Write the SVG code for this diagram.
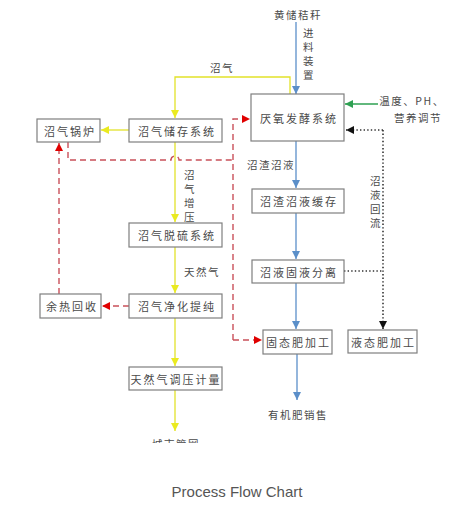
<svg xmlns="http://www.w3.org/2000/svg" width="457" height="519" viewBox="0 0 457 519">
<style>
.box{fill:#fff;stroke:#7f7f7f;stroke-width:1.2}
.t{font-family:"Noto Sans CJK SC","Noto Sans CJK TC",sans-serif;font-size:11px;fill:#4a4a4a;letter-spacing:2px;text-anchor:middle;dominant-baseline:central}
.tl{font-family:"Noto Sans CJK SC","Noto Sans CJK TC",sans-serif;font-size:10.5px;fill:#4a4a4a;letter-spacing:1.5px;text-anchor:middle;dominant-baseline:central}
.y{fill:none;stroke:#e2e22a;stroke-width:1.3}
.b{fill:none;stroke:#5b8fc9;stroke-width:1.3}
.g{fill:none;stroke:#2ea052;stroke-width:1.3}
.r{fill:none;stroke:#c9505a;stroke-width:1.4;stroke-dasharray:6 4}
.k{fill:none;stroke:#333;stroke-width:1.6;stroke-dasharray:1.4 2.2}
.title{font-family:"Liberation Sans",Arial,sans-serif;font-size:15px;fill:#555;text-anchor:middle}
</style>
<defs>
<marker id="ay" markerUnits="userSpaceOnUse" markerWidth="9" markerHeight="9" refX="8" refY="4.5" orient="auto"><path d="M0,0.5 L8,4.5 L0,8.5 z" fill="#eaea20"/></marker>
<marker id="ab" markerUnits="userSpaceOnUse" markerWidth="9" markerHeight="9" refX="8" refY="4.5" orient="auto"><path d="M0,0.5 L8,4.5 L0,8.5 z" fill="#5b8fc9"/></marker>
<marker id="ag" markerUnits="userSpaceOnUse" markerWidth="9" markerHeight="9" refX="8" refY="4.5" orient="auto"><path d="M0,0.5 L8,4.5 L0,8.5 z" fill="#2ea052"/></marker>
<marker id="ar" markerUnits="userSpaceOnUse" markerWidth="9" markerHeight="9" refX="8" refY="4.5" orient="auto"><path d="M0,0.5 L8,4.5 L0,8.5 z" fill="#e00000"/></marker>
<marker id="ak" markerUnits="userSpaceOnUse" markerWidth="9" markerHeight="9" refX="8" refY="4.5" orient="auto"><path d="M0,0.5 L8,4.5 L0,8.5 z" fill="#111"/></marker>
<clipPath id="cut"><rect x="0" y="0" width="457" height="443"/></clipPath>
</defs>
<rect width="457" height="519" fill="#fff"/>

<g id="connectors">
<path class="b" d="M296,22 V94" marker-end="url(#ab)"/>
<path class="g" d="M378,104 H345" marker-end="url(#ag)"/>
<path class="y" d="M290,94 V77 H175 V118" marker-end="url(#ay)"/>
<path class="y" d="M129,130 H101" marker-end="url(#ay)"/>
<path class="y" d="M175,142 V222" marker-end="url(#ay)"/>
<path class="y" d="M175,247 V293" marker-end="url(#ay)"/>
<path class="y" d="M175,318 V366" marker-end="url(#ay)"/>
<path class="y" d="M175,390 V431" marker-end="url(#ay)"/>
<path class="r" d="M129,306 H102" marker-end="url(#ar)"/>
<path class="r" d="M59,294 V143" marker-end="url(#ar)"/>
<path class="r" d="M68,142 V160 H171 A4,4 0 0 1 179,160 H233"/>
<path class="r" d="M233,340 V119 H250" marker-end="url(#ar)"/>
<path class="r" d="M233,340 H262" marker-end="url(#ar)"/>
<path class="b" d="M296,141 V188" marker-end="url(#ab)"/>
<path class="b" d="M296,213 V259" marker-end="url(#ab)"/>
<path class="b" d="M296,283 V329" marker-end="url(#ab)"/>
<path class="b" d="M297,354 V400" marker-end="url(#ab)"/>
<path class="k" d="M344,271 H383"/>
<path class="k" d="M383,130 H346" marker-end="url(#ak)"/>
<path class="k" d="M383,130 V329" marker-end="url(#ak)"/>
</g>

<g id="labels">
<text class="tl" x="298" y="14">黄储秸秆</text>
<text class="tl" x="309" y="32">进</text>
<text class="tl" x="309" y="46">料</text>
<text class="tl" x="309" y="60">装</text>
<text class="tl" x="309" y="74">置</text>
<text class="tl" x="222" y="67">沼气</text>
<text class="tl" x="412" y="100">温度、PH、</text>
<text class="tl" x="418" y="117">营养调节</text>
<text class="tl" x="271" y="164">沼渣沼液</text>
<text class="tl" x="190" y="174">沼</text>
<text class="tl" x="190" y="188">气</text>
<text class="tl" x="190" y="202">增</text>
<text class="tl" x="190" y="216">压</text>
<text class="tl" x="376" y="180">沼</text>
<text class="tl" x="376" y="194">液</text>
<text class="tl" x="376" y="208">回</text>
<text class="tl" x="376" y="222">流</text>
<text class="tl" x="202" y="271">天然气</text>
<text class="tl" x="298" y="414">有机肥销售</text>
<text class="tl" x="176" y="443" clip-path="url(#cut)">城市管网</text>
</g>

<g id="n-yangyang"><rect class="box" x="251" y="94" width="93" height="47"/><text class="t" x="299" y="118">厌氧发酵系统</text></g>
<g id="n-guolu"><rect class="box" x="37" y="119" width="63" height="23"/><text class="t" x="70" y="130.5">沼气锅炉</text></g>
<g id="n-chucun"><rect class="box" x="129" y="119" width="93" height="23"/><text class="t" x="177" y="130.5">沼气储存系统</text></g>
<g id="n-tuoliu"><rect class="box" x="129" y="223" width="93" height="24"/><text class="t" x="177" y="235">沼气脱硫系统</text></g>
<g id="n-jinghua"><rect class="box" x="129" y="294" width="93" height="24"/><text class="t" x="177" y="306">沼气净化提纯</text></g>
<g id="n-yure"><rect class="box" x="40" y="294" width="61" height="24"/><text class="t" x="72" y="306">余热回收</text></g>
<g id="n-tiaoya"><rect class="box" x="129" y="367" width="93" height="23"/><text class="t" x="176" y="378.5">天然气调压计量</text></g>
<g id="n-huancun"><rect class="box" x="252" y="189" width="92" height="24"/><text class="t" x="299" y="201">沼渣沼液缓存</text></g>
<g id="n-fenli"><rect class="box" x="252" y="260" width="92" height="23"/><text class="t" x="299" y="271.5">沼液固液分离</text></g>
<g id="n-gutai"><rect class="box" x="263" y="330" width="69" height="24"/><text class="t" x="298.5" y="342">固态肥加工</text></g>
<g id="n-yetai"><rect class="box" x="348" y="330" width="69" height="23"/><text class="t" x="383.5" y="341.5">液态肥加工</text></g>

<text class="title" x="237" y="497">Process Flow Chart</text>
</svg>
